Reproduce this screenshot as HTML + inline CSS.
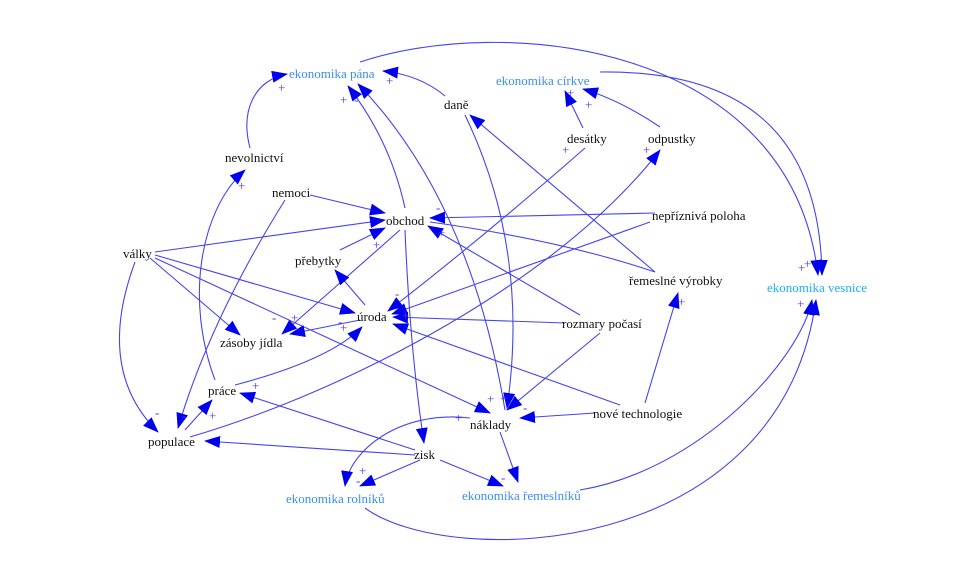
<!DOCTYPE html>
<html><head><meta charset="utf-8"><style>
body{margin:0;background:#fff;}
svg{display:block}
text{font-family:"Liberation Serif",serif;font-size:13px;}
.n{fill:#111}
.b{fill:#3a8ef0}
.c{fill:#1ab0f0}
.s{fill:#5533dd;font-size:12px;font-family:"Liberation Sans",sans-serif}
path{fill:none;stroke:#4444f0;stroke-width:1.1}
</style></head><body>
<svg width="962" height="574" viewBox="0 0 962 574">
<defs><marker id="a" markerWidth="16" markerHeight="12" refX="15" refY="6" orient="auto" markerUnits="userSpaceOnUse"><path d="M0,0 L16,6 L0,12 z" style="fill:#0000ee;stroke:none"/></marker></defs>
<g marker-end="url(#a)">
<path d="M250,148 C240,110 255,80 287,74"/>
<path d="M405,208 Q390,140 348,86"/>
<path d="M505,410 Q470,200 358,84"/>
<path d="M445,96 Q420,75 383,71"/>
<path d="M360,62 C500,15 790,40 818,275"/>
<path d="M465,115 Q530,250 507,408"/>
<path d="M655,272 L470,115"/>
<path d="M583,128 L565,91"/>
<path d="M660,127 Q620,100 583,89"/>
<path d="M600,72 C760,70 820,150 822,275"/>
<path d="M310,195 L385,213"/>
<path d="M285,200 Q210,320 178,428"/>
<path d="M155,252 L385,220"/>
<path d="M340,250 L385,228"/>
<path d="M655,213 L430,218"/>
<path d="M580,315 L428,226"/>
<path d="M400,230 L282,334"/>
<path d="M405,230 Q410,350 424,443"/>
<path d="M365,305 L335,270"/>
<path d="M155,255 L355,313"/>
<path d="M150,258 L240,335"/>
<path d="M155,258 L490,413"/>
<path d="M135,262 Q95,370 158,432"/>
<path d="M360,320 L290,334"/>
<path d="M235,385 Q330,360 362,327"/>
<path d="M585,148 Q480,240 388,311"/>
<path d="M650,222 L392,314"/>
<path d="M565,323 L393,317"/>
<path d="M620,405 L393,324"/>
<path d="M600,333 L507,410"/>
<path d="M595,413 L520,418"/>
<path d="M645,403 L678,293"/>
<path d="M190,437 C350,390 560,280 660,150"/>
<path d="M185,430 L212,400"/>
<path d="M215,380 C185,300 200,210 245,170"/>
<path d="M415,450 L240,393"/>
<path d="M415,455 L205,441"/>
<path d="M420,460 L360,486"/>
<path d="M440,460 L503,486"/>
<path d="M500,432 L518,482"/>
<path d="M470,418 C400,410 350,450 345,486"/>
<path d="M580,490 C700,470 800,360 812,300"/>
<path d="M365,508 C450,570 780,560 816,300"/>
</g>
<path d="M430,222 Q560,240 655,272"/>
<g>
<text x="289" y="78" class="b">ekonomika pána</text>
<text x="496" y="85" class="b">ekonomika církve</text>
<text x="444" y="109" class="n">daně</text>
<text x="567" y="143" class="n">desátky</text>
<text x="648" y="143" class="n">odpustky</text>
<text x="225" y="162" class="n">nevolnictví</text>
<text x="272" y="197" class="n">nemoci</text>
<text x="386" y="225" class="n">obchod</text>
<text x="652" y="220" class="n">nepříznivá poloha</text>
<text x="123" y="258" class="n">války</text>
<text x="295" y="265" class="n">přebytky</text>
<text x="629" y="285" class="n">řemeslné výrobky</text>
<text x="767" y="292" class="c">ekonomika vesnice</text>
<text x="357" y="321" class="n">úroda</text>
<text x="562" y="328" class="n">rozmary počasí</text>
<text x="220" y="347" class="n">zásoby jídla</text>
<text x="208" y="395" class="n">práce</text>
<text x="593" y="418" class="n">nové technologie</text>
<text x="470" y="429" class="n">náklady</text>
<text x="148" y="446" class="n">populace</text>
<text x="414" y="459" class="n">zisk</text>
<text x="286" y="503" class="b">ekonomika rolníků</text>
<text x="462" y="500" class="b">ekonomika řemeslníků</text>
</g>
<g class="s">
<text x="278" y="92">+</text><text x="340" y="104">+</text><text x="354" y="104">-</text><text x="386" y="85">+</text>
<text x="567" y="97">+</text><text x="585" y="109">+</text><text x="562" y="154">+</text><text x="643" y="154">+</text>
<text x="238" y="190">+</text><text x="436" y="212">-</text><text x="438" y="237">+</text><text x="373" y="249">+</text>
<text x="395" y="298">-</text><text x="402" y="320">+</text><text x="272" y="322">-</text><text x="291" y="322">+</text><text x="338" y="326">-</text><text x="340" y="332">+</text>
<text x="678" y="306">+</text><text x="798" y="272">+</text><text x="804" y="268">+</text><text x="797" y="308">+</text>
<text x="252" y="390">+</text><text x="155" y="417">-</text><text x="182" y="420">-</text><text x="209" y="420">+</text>
<text x="487" y="403">+</text><text x="500" y="403">+</text><text x="523" y="412">-</text><text x="455" y="422">+</text>
<text x="359" y="475">+</text><text x="356" y="485">-</text><text x="501" y="482">-</text>
</g>
</svg>
</body></html>
